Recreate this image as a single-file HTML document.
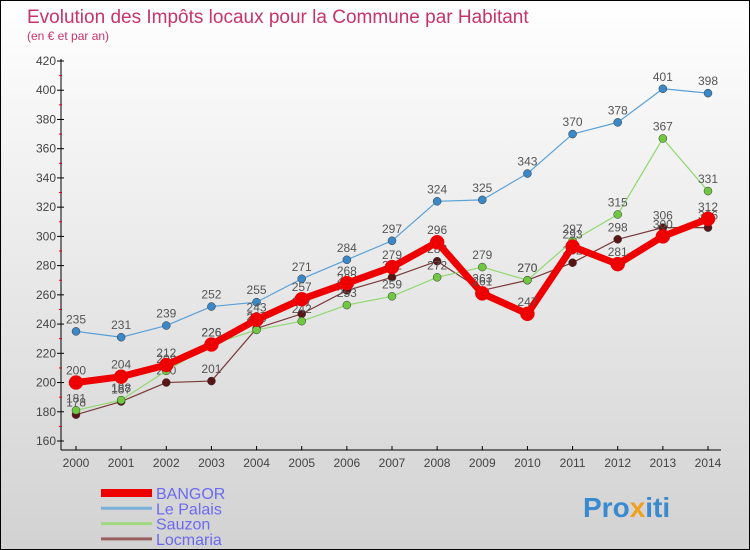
<!DOCTYPE html>
<html><head><meta charset="utf-8"><style>
body{margin:0}
#c{width:750px;height:550px;position:relative;overflow:hidden;box-sizing:border-box;border:1px solid #000;background:linear-gradient(#ffffff,#d2d2d2);font-family:"Liberation Sans",sans-serif}
</style></head><body>
<div id="c">
<svg id="s" width="750" height="550" style="position:absolute;left:0;top:0">
<text x="26" y="22" font-size="19" fill="#c8336a">Evolution des Impôts locaux pour la Commune par Habitant</text>
<text x="26" y="39" font-size="12" fill="#c8336a">(en € et par an)</text>
<g id="axes"></g><g id="series"></g><g id="legend"></g>
<g><text x="582" y="516" font-size="28" font-weight="bold" fill="#3a8ad0">Pro<tspan fill="#f0a020">x</tspan><tspan fill="#3a8ad0">iti</tspan></text></g>
</svg>
</div>
<script>
const years=[2000,2001,2002,2003,2004,2005,2006,2007,2008,2009,2010,2011,2012,2013,2014];
const yTicks=[160,180,200,220,240,260,280,300,320,340,360,380,400,420];
const bangor=[200,204,212,226,243,257,268,279,296,261,247,293,281,300,312];
const lePalais=[235,231,239,252,255,271,284,297,324,325,343,370,378,401,398];
const sauzon=[181,188,208,226,236,242,253,259,272,279,270,297,315,367,331];
const locmaria=[178,187,200,201,237,247,263,272,283,263,270,282,298,306,306];
const names=["BANGOR","Le Palais","Sauzon","Locmaria"];
const NS="http://www.w3.org/2000/svg";
const X=i=>75+i*(632/14);
const Y=v=>60+(420-v)*(380/260);
function mk(t,a,p){const e=document.createElementNS(NS,t);for(const k in a)e.setAttribute(k,a[k]);p.appendChild(e);return e;}
const ax=document.getElementById('axes');
let l=mk('line',{x1:60,y1:58,x2:60,y2:449,stroke:'#000'},ax);

l=mk('line',{x1:60,y1:449,x2:720,y2:449,stroke:'#000'},ax);

yTicks.forEach((v,i)=>{const y=Y(v);mk('line',{x1:56,y1:y,x2:63,y2:y,stroke:'#000'},ax);
 if(i<yTicks.length-1)mk('line',{x1:58,y1:Y(v+10),x2:61,y2:Y(v+10),stroke:'#e00'},ax);
 const t=mk('text',{x:55,y:y+4,'font-size':12,fill:'#444','text-anchor':'end'},ax);t.textContent=v;
 });
years.forEach((yr,i)=>{const x=X(i);mk('line',{x1:x,y1:445,x2:x,y2:449,stroke:'#000'},ax);
 const t=mk('text',{x:x,y:466,'font-size':12,fill:'#444','text-anchor':'middle'},ax);t.textContent=yr;
 });
const sg=document.getElementById('series');
const defs=[[locmaria,'#7a3a3a','#5a1515',1.2,4],[sauzon,'#90d870','#70c840',1.2,4],[lePalais,'#5aa0d8','#3a88c8',1.2,4],[bangor,'#ee0000','#ee0000',7,7]];
const order=[3,2,1,0];
defs.forEach((d,k)=>{const [data,lc,pc,w,r]=d;const g=mk('g',{},sg);
 
 mk('polyline',{points:data.map((v,i)=>X(i)+','+Y(v)).join(' '),fill:'none',stroke:lc,'stroke-width':w,'stroke-linejoin':'round'},g);
 data.forEach((v,i)=>{const c=mk('circle',{cx:X(i),cy:Y(v),r:r,fill:pc,stroke:r>5?'#e00':'#333','stroke-width':0.5},g);
  
  const t=mk('text',{x:X(i),y:Y(v)-8,'font-size':12,fill:'#555','text-anchor':'middle'},g);t.textContent=v;
  });});
const lg=document.getElementById('legend');
const lcol=['#ee0000','#7ab0d8','#a0d880','#9a6060'],lw=[8,3,3,3];
names.forEach((n,i)=>{const y=492+i*15.3;const g=mk('g',{},lg);
 
 mk('line',{x1:100,y1:y,x2:151,y2:y,stroke:lcol[i],'stroke-width':lw[i]},g);
 const t=mk('text',{x:155,y:y+6,'font-size':16,fill:'#6a6af0'},g);t.textContent=n;});
</script>
</body></html>
